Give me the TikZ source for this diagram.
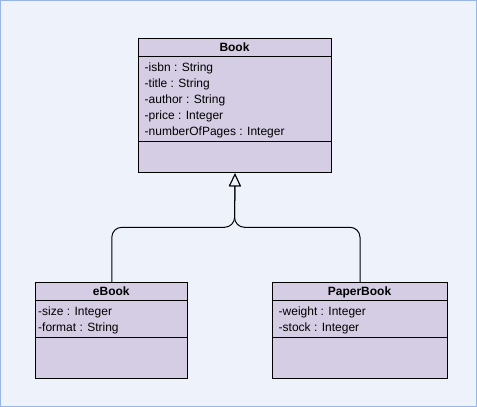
\documentclass[tikz,border=0pt]{standalone}
\usepackage{fontspec}
\setmainfont{Liberation Sans}
\usetikzlibrary{arrows.meta}
\definecolor{bg}{HTML}{EEF2FA}
\definecolor{frame}{HTML}{99B5E8}
\definecolor{cls}{HTML}{D5CDE3}
\begin{document}
\begin{tikzpicture}[x=1pt,y=-1pt,
  clsbox/.style={draw=black, fill=cls, line width=1pt, inner sep=0pt, anchor=north west},
  ctitle/.style={font=\fontsize{12}{14}\selectfont\bfseries, inner sep=0pt, anchor=base},
  attr/.style={font=\fontsize{12}{14}\selectfont, inner sep=0pt, anchor=base west},
  sepline/.style={draw=black, line width=1pt},
  inh/.style={draw=black, line width=1pt, rounded corners=10pt,
    -{Triangle[open, width=12pt, length=13pt, fill=bg]}}]
\fill[bg] (0,0) rectangle (477,407);
\draw[frame, line width=1pt] (0.5,0.5) rectangle (476.5,406.5);
\useasboundingbox (0,0) rectangle (477,407);

% Book
\node[clsbox, minimum width=192.4pt, minimum height=134pt] (Book) at (138.3,38.3) {};
\node[ctitle] (BookT) at (234.5,51) {Book};
\draw[sepline] (138.3,56) -- (330.7,56);
\draw[sepline] (138.3,141.7) -- (330.7,141.7);
\node[attr] (b1) at (144.5,71.5) {-isbn : String};
\node[attr] (b2) at (144.5,87.5) {-title : String};
\node[attr] (b3) at (144.5,103.5) {-author : String};
\node[attr] (b4) at (144.5,119.5) {-price : Integer};
\node[attr] (b5) at (144.5,135.5) {-numberOfPages : Integer};

% eBook
\node[clsbox, minimum width=152pt, minimum height=95.4pt] (eBook) at (35.3,282.3) {};
\node[ctitle] (eBookT) at (111.3,295.5) {eBook};
\draw[sepline] (35.3,300) -- (187.3,300);
\draw[sepline] (35.3,337.3) -- (187.3,337.3);
\node[attr] (e1) at (38,315) {-size : Integer};
\node[attr] (e2) at (38,331.5) {-format : String};

% PaperBook
\node[clsbox, minimum width=174.4pt, minimum height=95.4pt] (Paper) at (272.3,282.3) {};
\node[ctitle] (PaperT) at (359.5,295.5) {PaperBook};
\draw[sepline] (272.3,300) -- (446.7,300);
\draw[sepline] (272.3,337.3) -- (446.7,337.3);
\node[attr] (p1) at (278.5,315) {-weight : Integer};
\node[attr] (p2) at (278.5,331.5) {-stock : Integer};

% inheritance
\coordinate (j) at (234.5,227.3);
\draw[inh] (eBook.north) |- (j) -- (Book.south);
\draw[inh] (Paper.north) |- (j) -- (Book.south);
\end{tikzpicture}
\end{document}
